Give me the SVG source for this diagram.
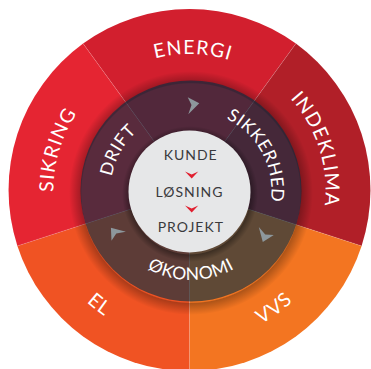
<svg xmlns="http://www.w3.org/2000/svg" width="371" height="369" viewBox="0 0 371 369">
  <style>
    .outer { font-family: Lato, "Open Sans", "DejaVu Sans", sans-serif; font-size: 19.5px; fill: #ffffff; letter-spacing: 1.2px; }
    .ring { font-family: Lato, "Open Sans", "DejaVu Sans", sans-serif; font-size: 17.5px; fill: #ffffff; letter-spacing: 0.6px; }
    .core { font-family: Lato, "Open Sans", "DejaVu Sans", sans-serif; font-size: 14px; fill: #3a3a3d; letter-spacing: 1px; text-anchor: middle; }
    .seam { stroke: #ffffff; stroke-opacity: 0.22; stroke-width: 0.7; }
    .arrow { fill: #8d979c; }
    .chev { fill: #e11f2f; }
  </style>
  <defs>
    <path id="cwOuter" d="M 189.5,326 A 136 136 0 1 1 189.5,54 A 136 136 0 1 1 189.5,326"/>
    <path id="ccwOuter" d="M 189.5,38 A 152 152 0 1 0 189.5,342 A 152 152 0 1 0 189.5,38"/>
    <path id="cwRing" d="M 191,271.5 A 80.5 80.5 0 1 1 191,110.5 A 80.5 80.5 0 1 1 191,271.5"/>
    <path id="ccwRing" d="M 191,102 A 89 89 0 1 0 191,280 A 89 89 0 1 0 191,102"/>
    <radialGradient id="ringShadow">
      <stop offset="0" stop-color="#000" stop-opacity="0"/>
      <stop offset="0.895" stop-color="#000" stop-opacity="0"/>
      <stop offset="0.905" stop-color="#000" stop-opacity="0.28"/>
      <stop offset="1" stop-color="#000" stop-opacity="0"/>
    </radialGradient>
    <radialGradient id="coreShadow">
      <stop offset="0" stop-color="#000" stop-opacity="0"/>
      <stop offset="0.88" stop-color="#000" stop-opacity="0"/>
      <stop offset="0.895" stop-color="#000" stop-opacity="0.35"/>
      <stop offset="1" stop-color="#000" stop-opacity="0"/>
    </radialGradient>
  </defs>

  <!-- outer sectors -->
  <g id="energi">
    <path d="M 189.5,190 L 83.1,43.6 A 181 181 0 0 1 295.9,43.6 Z" fill="#d21f2e"/>
  </g>
  <g id="indeklima">
    <path d="M 189.5,190 L 295.9,43.6 A 181 181 0 0 1 361.6,245.9 Z" fill="#b11f28"/>
  </g>
  <g id="vvs">
    <path d="M 189.5,190 L 361.6,245.9 A 181 181 0 0 1 189.5,371 Z" fill="#f37521"/>
  </g>
  <g id="el">
    <path d="M 189.5,190 L 189.5,371 A 181 181 0 0 1 17.4,245.9 Z" fill="#f05323"/>
  </g>
  <g id="sikring">
    <path d="M 189.5,190 L 17.4,245.9 A 181 181 0 0 1 83.1,43.6 Z" fill="#e52532"/>
  </g>

  <g id="seams">
    <line class="seam" x1="189.5" y1="190" x2="83.1" y2="43.6"/>
    <line class="seam" x1="189.5" y1="190" x2="295.9" y2="43.6"/>
    <line class="seam" x1="189.5" y1="190" x2="361.6" y2="245.9"/>
    <line class="seam" x1="189.5" y1="190" x2="189.5" y2="371"/>
    <line class="seam" x1="189.5" y1="190" x2="17.4" y2="245.9"/>
  </g>

  <!-- dark ring -->
  <g id="ring">
    <circle cx="191" cy="193" r="122" fill="url(#ringShadow)"/>
    <circle cx="191" cy="191" r="110.5" fill="#042f43" fill-opacity="0.62"/>
  </g>

  <g id="arrows">
    <polygon class="arrow" points="199.3,103.3 187.7,97.3 191.5,105 188.3,114.3"/>
    <polygon class="arrow" points="199.3,103.3 187.7,97.3 191.5,105 188.3,114.3" transform="rotate(120 191 191)"/>
    <polygon class="arrow" points="199.3,103.3 187.7,97.3 191.5,105 188.3,114.3" transform="rotate(240 191 191)"/>
  </g>

  <!-- center -->
  <g id="core">
    <circle cx="190" cy="194" r="68" fill="url(#coreShadow)"/>
    <circle cx="189.5" cy="191.5" r="61" fill="#e6e7e8"/>
    <text class="core" x="190.7" y="160">KUNDE</text>
    <polygon class="chev" points="185,171.5 191.7,174.5 198.3,171.5 191.7,178.5"/>
    <text class="core" x="189.5" y="196.5">LØSNING</text>
    <polygon class="chev" points="185,205.5 191.7,208.5 198.3,205.5 191.7,212.5"/>
    <text class="core" x="190.8" y="232.3">PROJEKT</text>
  </g>

  <!-- labels -->
  <g id="label-energi"><text class="outer" text-anchor="middle"><textPath href="#cwOuter" startOffset="50.4%">ENERGI</textPath></text></g>
  <g id="label-indeklima"><text class="outer" text-anchor="middle"><textPath href="#cwOuter" startOffset="70.1%">INDEKLIMA</textPath></text></g>
  <g id="label-sikring"><text class="outer" text-anchor="middle"><textPath href="#cwOuter" startOffset="29.7%">SIKRING</textPath></text></g>
  <g id="label-el"><text class="outer" text-anchor="middle"><textPath href="#ccwOuter" startOffset="39.4%">EL</textPath></text></g>
  <g id="label-vvs"><text class="outer" text-anchor="middle"><textPath href="#ccwOuter" startOffset="59.9%">VVS</textPath></text></g>
  <g id="label-drift"><text class="ring" text-anchor="middle"><textPath href="#cwRing" startOffset="33.1%">DRIFT</textPath></text></g>
  <g id="label-sikkerhed"><text class="ring" text-anchor="middle"><textPath href="#cwRing" startOffset="67.2%">SIKKERHED</textPath></text></g>
  <g id="label-okonomi"><text class="ring" text-anchor="middle"><textPath href="#ccwRing" startOffset="50%">ØKONOMI</textPath></text></g>
</svg>
